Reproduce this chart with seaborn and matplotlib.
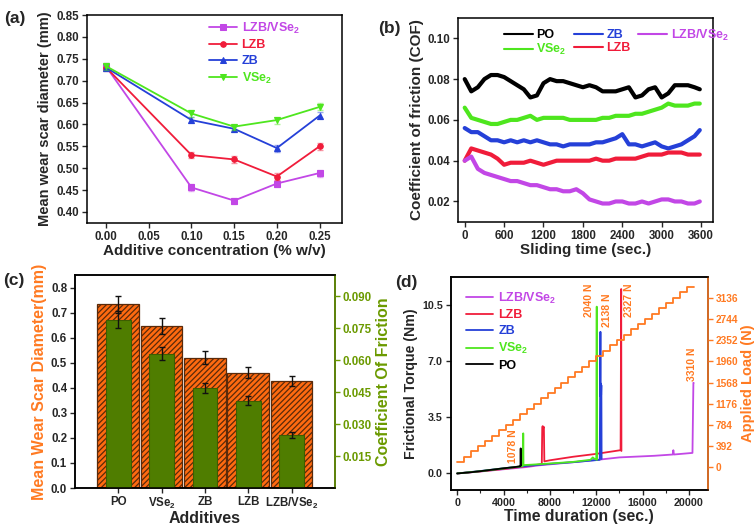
import numpy as np
import pandas as pd
import matplotlib
matplotlib.use('Agg')
import matplotlib.pyplot as plt
import seaborn as sns
from matplotlib.ticker import MultipleLocator, AutoMinorLocator, FormatStrFormatter

sns.set_theme(style='ticks')
plt.rcParams['font.family'] = ['Liberation Sans', 'DejaVu Sans']
plt.rcParams['font.weight'] = 'bold'
plt.rcParams['axes.labelweight'] = 'bold'
plt.rcParams['mathtext.fontset'] = 'custom'
plt.rcParams['mathtext.rm'] = 'Liberation Sans:bold'
plt.rcParams['mathtext.bf'] = 'Liberation Sans:bold'
plt.rcParams['mathtext.default'] = 'bf'
plt.rcParams['hatch.linewidth'] = 0.9

# ---------------- data (a) ----------------
conc = [0.00, 0.10, 0.15, 0.20, 0.25]
wsd_lzb_vse2 = [0.732, 0.456, 0.426, 0.465, 0.489]
wsd_lzb = [0.730, 0.530, 0.520, 0.481, 0.550]
wsd_zb = [0.730, 0.610, 0.590, 0.546, 0.620]
wsd_vse2 = [0.733, 0.625, 0.595, 0.610, 0.640]
wsd_err = [0.008, 0.007, 0.007, 0.008, 0.008]

# ---------------- data (b) ----------------
cof_time = [0, 100, 200, 300, 400, 500, 600, 700, 800, 900, 1000, 1100, 1200,
            1300, 1400, 1500, 1600, 1700, 1800, 1900, 2000, 2100, 2200, 2300,
            2400, 2500, 2600, 2700, 2800, 2900, 3000, 3100, 3200, 3300, 3400,
            3500, 3580]
cof_po = [0.080, 0.074, 0.076, 0.080, 0.082, 0.082, 0.081, 0.079, 0.077, 0.075,
          0.071, 0.072, 0.078, 0.080, 0.079, 0.079, 0.078, 0.077, 0.076, 0.077,
          0.076, 0.074, 0.074, 0.074, 0.075, 0.076, 0.071, 0.072, 0.075, 0.076,
          0.071, 0.073, 0.077, 0.077, 0.077, 0.076, 0.075]
cof_vse2 = [0.066, 0.061, 0.060, 0.059, 0.058, 0.058, 0.059, 0.060, 0.060, 0.061,
            0.062, 0.060, 0.061, 0.061, 0.061, 0.061, 0.060, 0.060, 0.060, 0.060,
            0.060, 0.061, 0.061, 0.062, 0.062, 0.062, 0.063, 0.063, 0.064, 0.065,
            0.066, 0.068, 0.067, 0.067, 0.067, 0.068, 0.068]
cof_zb = [0.056, 0.054, 0.054, 0.052, 0.050, 0.050, 0.049, 0.050, 0.049, 0.050,
          0.049, 0.050, 0.049, 0.048, 0.048, 0.047, 0.048, 0.048, 0.048, 0.048,
          0.049, 0.049, 0.050, 0.051, 0.053, 0.048, 0.048, 0.047, 0.048, 0.049,
          0.047, 0.046, 0.047, 0.048, 0.050, 0.052, 0.055]
cof_lzb = [0.040, 0.046, 0.045, 0.044, 0.043, 0.041, 0.038, 0.039, 0.039, 0.039,
           0.040, 0.039, 0.038, 0.039, 0.040, 0.040, 0.040, 0.040, 0.040, 0.040,
           0.041, 0.040, 0.040, 0.041, 0.041, 0.041, 0.041, 0.042, 0.043, 0.043,
           0.043, 0.044, 0.044, 0.044, 0.043, 0.043, 0.043]
cof_lzb_vse2 = [0.040, 0.042, 0.036, 0.034, 0.033, 0.032, 0.031, 0.030, 0.030, 0.029,
                0.028, 0.028, 0.027, 0.026, 0.026, 0.025, 0.025, 0.026, 0.024, 0.021,
                0.020, 0.019, 0.019, 0.020, 0.020, 0.019, 0.019, 0.020, 0.019, 0.020,
                0.021, 0.021, 0.020, 0.020, 0.019, 0.019, 0.020]

# ---------------- data (c) ----------------
additives = ['PO', 'VSe$_2$', 'ZB', 'LZB', 'LZB/VSe$_2$']
bar_wsd = [0.733, 0.645, 0.520, 0.460, 0.427]
bar_wsd_err = [0.035, 0.032, 0.026, 0.022, 0.020]
bar_cof = [0.079, 0.063, 0.047, 0.041, 0.025]
bar_cof_err = [0.004, 0.003, 0.0025, 0.002, 0.0013]

# ---------------- data (d) ----------------
load_time = [0, 600, 1200, 1800, 2400, 3000, 3600, 4200, 4800, 5400, 6000, 6600,
             7200, 7800, 8400, 9000, 9600, 10200, 10800, 11400, 12000, 12600,
             13200, 13800, 14400, 15000, 15600, 16200, 16800, 17400, 18000,
             18600, 19200, 19800, 20400]
load_level = [98, 196, 294, 392, 490, 588, 686, 784, 882, 980, 1078, 1176, 1274,
              1372, 1470, 1568, 1666, 1764, 1862, 1960, 2058, 2156, 2254, 2352,
              2450, 2548, 2646, 2744, 2842, 2940, 3038, 3136, 3234, 3332, 3332]
tq_po_t = [0, 1000, 2000, 3000, 4000, 5000, 5400, 5460, 5480, 5500]
tq_po = [0.0, 0.06, 0.14, 0.23, 0.32, 0.40, 0.44, 0.46, 1.56, 0.50]
tq_vse2_t = [0, 2000, 4000, 5600, 5680, 5700, 5720, 6500, 8000, 10000, 11500,
             11700, 11900, 12000, 12040, 12060]
tq_vse2 = [0.0, 0.14, 0.31, 0.45, 0.48, 2.50, 0.52, 0.55, 0.62, 0.72, 0.85,
           1.00, 0.88, 0.88, 10.40, 0.85]
tq_lzb_t = [0, 2000, 4000, 6000, 7300, 7340, 7380, 7440, 7480, 7520, 8000,
            10000, 12000, 13000, 14100, 14150, 14170]
tq_lzb = [0.0, 0.13, 0.28, 0.45, 0.58, 2.90, 2.95, 2.85, 2.90, 0.75, 0.82,
          1.04, 1.22, 1.33, 1.45, 11.50, 1.40]
tq_zb_t = [0, 2000, 4000, 6000, 8000, 10000, 12300, 12360, 12380, 12400,
           12420, 12440, 12460]
tq_zb = [0.0, 0.15, 0.32, 0.47, 0.60, 0.70, 0.85, 8.83, 4.80, 5.60, 4.90,
         5.50, 0.90]
tq_lzbv_t = [0, 2000, 4000, 6000, 7000, 10000, 12500, 14000, 17000, 18600,
             18650, 18700, 20300, 20380, 20400]
tq_lzbv = [0.0, 0.12, 0.26, 0.40, 0.50, 0.70, 0.88, 1.00, 1.10, 1.18, 1.45,
           1.18, 1.28, 5.65, 5.65]
fail_labels = ['1078 N', '2040 N', '2138 N', '2327 N', '3310 N']
fail_x = [4810, 11350, 12930, 14810, 20220]
fail_y = [1.7, 10.8, 10.2, 10.8, 6.8]

# ---------------- colours ----------------
c_vio = '#c247e6'
c_red = '#f01c3a'
c_blue = '#2540d8'
c_green = '#4ee61e'
c_black = '#000000'
c_orange = '#ff7a22'
c_bar_orange = '#ff6a10'
c_bar_green = '#4f7d00'
c_axis_green = '#6b9a00'

TICK = 8.3
LAB = 11

fig = plt.figure(figsize=(7.56, 5.27), dpi=100)

def style_axes(ax, size=TICK, lw=1.1):
    for s in ax.spines.values():
        s.set_linewidth(lw)
        s.set_color('black')
    ax.tick_params(direction='out', length=3.5, width=1, labelsize=size, pad=2)

def color_legend(leg, lw=None):
    for t, l in zip(leg.get_texts(), leg.get_lines()):
        t.set_color(l.get_color())
        if lw:
            l.set_linewidth(lw)

# ================= (a) =================
axa = fig.add_axes([0.115, 0.577, 0.337, 0.3945])
series_a = [('LZB/VSe$_2$', wsd_lzb_vse2, c_vio, 's'),
            ('LZB', wsd_lzb, c_red, 'o'),
            ('ZB', wsd_zb, c_blue, '^'),
            ('VSe$_2$', wsd_vse2, c_green, 'v')]
for name, vals, col, mk in series_a:
    sns.lineplot(x=conc, y=vals, ax=axa, color=col, marker=mk, markersize=4,
                 markeredgecolor=col, lw=1.3, label=name)
    axa.errorbar(conc, vals, yerr=wsd_err, fmt='none', ecolor=col, alpha=0.45,
                 capsize=2.5, lw=1)
axa.set_xlim(-0.0225, 0.276)
axa.set_ylim(0.375, 0.85)
axa.set_xticks([0.00, 0.05, 0.10, 0.15, 0.20, 0.25])
axa.set_yticks(np.arange(0.40, 0.851, 0.05))
axa.xaxis.set_major_formatter(FormatStrFormatter('%.2f'))
axa.yaxis.set_major_formatter(FormatStrFormatter('%.2f'))
style_axes(axa)
axa.set_xlabel('Additive concentration (% w/v)', fontsize=LAB, labelpad=1)
axa.set_ylabel('Mean wear scar diameter (mm)', fontsize=10.5, labelpad=3)
leg = axa.legend(loc='upper left', bbox_to_anchor=(0.45, 1.01), frameon=False,
                 fontsize=9, handlelength=2.2, handletextpad=0.4,
                 labelspacing=0.3, borderaxespad=0.2)
color_legend(leg)

# ================= (b) =================
axb = fig.add_axes([0.606, 0.579, 0.337, 0.387])
series_b = [('PO', cof_po, c_black), ('VSe$_2$', cof_vse2, c_green),
            ('ZB', cof_zb, c_blue), ('LZB', cof_lzb, c_red),
            ('LZB/VSe$_2$', cof_lzb_vse2, c_vio)]
for name, vals, col in series_b:
    sns.lineplot(x=cof_time, y=vals, ax=axb, color=col, lw=3.0, label=name)
axb.set_xlim(-100, 3780)
axb.set_ylim(0.01, 0.11)
axb.set_xticks([0, 600, 1200, 1800, 2400, 3000, 3600])
axb.set_yticks([0.02, 0.04, 0.06, 0.08, 0.10])
axb.yaxis.set_major_formatter(FormatStrFormatter('%.2f'))
style_axes(axb)
axb.set_xlabel('Sliding time (sec.)', fontsize=LAB, labelpad=1)
axb.set_ylabel('Coefficient of friction (COF)', fontsize=LAB, labelpad=3)
leg = axb.legend(loc='upper left', bbox_to_anchor=(0.15, 0.99), ncol=3,
                 frameon=False, fontsize=9, handlelength=2.3, handletextpad=0.3,
                 labelspacing=0.05, columnspacing=0.6, borderaxespad=0.2)
color_legend(leg, lw=1.5)

# ================= (c) =================
axc = fig.add_axes([0.099, 0.074, 0.344, 0.404])
sns.barplot(x=additives, y=bar_wsd, ax=axc, color=c_bar_orange, width=0.96,
            saturation=1, edgecolor='#5a2a0a', linewidth=0.9, errorbar=None)
for p in axc.patches:
    p.set_hatch('//////')
axc.errorbar(range(len(additives)), bar_wsd, yerr=bar_wsd_err, fmt='none',
             ecolor='#111111', capsize=2.5, lw=1)
axc2 = axc.twinx()
sns.barplot(x=additives, y=bar_cof, ax=axc2, color=c_bar_green, width=0.57,
            saturation=1, edgecolor='#3d5e00', linewidth=0.8, errorbar=None)
axc2.errorbar(range(len(additives)), bar_cof, yerr=bar_cof_err, fmt='none',
              ecolor='#111111', capsize=2.5, lw=1)
axc.set_xlim(-1, 5)
axc.set_ylim(0, 0.85)
axc2.set_ylim(0, 0.10)
axc.set_yticks(np.arange(0, 0.81, 0.1))
axc.yaxis.set_major_formatter(FormatStrFormatter('%.1f'))
axc2.set_yticks([0.015, 0.030, 0.045, 0.060, 0.075, 0.090])
axc2.yaxis.set_major_formatter(FormatStrFormatter('%.3f'))
style_axes(axc)
style_axes(axc2)
axc2.spines['right'].set_color(c_axis_green)
axc2.tick_params(axis='y', colors=c_axis_green)
axc.set_xlabel('Additives', fontsize=LAB + 0.5, labelpad=0)
axc.set_ylabel('Mean Wear Scar Diameter(mm)', fontsize=11.5, color=c_orange,
               labelpad=3)
axc2.set_ylabel('Coefficient Of Friction', fontsize=11.5, color=c_axis_green,
                labelpad=3)

# ================= (d) =================
axd = fig.add_axes([0.596, 0.070, 0.3405, 0.405])
series_d = [('LZB/VSe$_2$', tq_lzbv_t, tq_lzbv, c_vio),
            ('LZB', tq_lzb_t, tq_lzb, c_red),
            ('ZB', tq_zb_t, tq_zb, c_blue),
            ('VSe$_2$', tq_vse2_t, tq_vse2, c_green),
            ('PO', tq_po_t, tq_po, c_black)]
for name, tt, vv, col in series_d:
    sns.lineplot(x=tt, y=vv, ax=axd, color=col, lw=1.3, label=name,
                 sort=False, estimator=None)
axd2 = axd.twinx()
sns.lineplot(x=load_time, y=load_level, ax=axd2, color=c_orange, lw=1.3,
             drawstyle='steps-post', sort=False, estimator=None)
axd.set_xlim(-570, 21640)
axd.set_ylim(-1.04, 12.27)
axd2.set_ylim(-420, 3524)
axd.set_xticks([0, 4000, 8000, 12000, 16000, 20000])
axd.xaxis.set_minor_locator(AutoMinorLocator(2))
axd.set_yticks([0.0, 3.5, 7.0, 10.5])
axd.yaxis.set_major_formatter(FormatStrFormatter('%.1f'))
axd2.set_yticks([0, 392, 784, 1176, 1568, 1960, 2352, 2744, 3136])
style_axes(axd, size=7.7)
style_axes(axd2, size=7.3)
axd.tick_params(axis='x', which='minor', length=2, width=0.8)
axd2.spines['right'].set_color(c_orange)
axd2.tick_params(axis='y', colors=c_orange)
axd.set_xlabel('Time duration (sec.)', fontsize=11.3, labelpad=1)
axd.set_ylabel('Frictional Torque (Nm)', fontsize=10.2, labelpad=3)
axd2.set_ylabel('Applied Load (N)', fontsize=10.5, color=c_orange, labelpad=2)
for lab, xx, yy in zip(fail_labels, fail_x, fail_y):
    axd.text(xx, yy, lab, rotation=90, ha='center', va='center',
             color=c_orange, fontsize=7.5, fontweight='bold')
leg = axd.legend(loc='upper left', bbox_to_anchor=(0.03, 0.97), frameon=False,
                 fontsize=9, handlelength=2.2, handletextpad=0.4,
                 labelspacing=0.3, borderaxespad=0.2)
color_legend(leg)

# panel labels
fig.text(0.005, 0.965, '(a)', fontsize=12.5, fontweight='bold', va='center')
fig.text(0.500, 0.946, '(b)', fontsize=12.5, fontweight='bold', va='center')
fig.text(0.004, 0.468, '(c)', fontsize=12.5, fontweight='bold', va='center')
fig.text(0.523, 0.463, '(d)', fontsize=12.5, fontweight='bold', va='center')

fig.savefig('out.png', dpi=100)
